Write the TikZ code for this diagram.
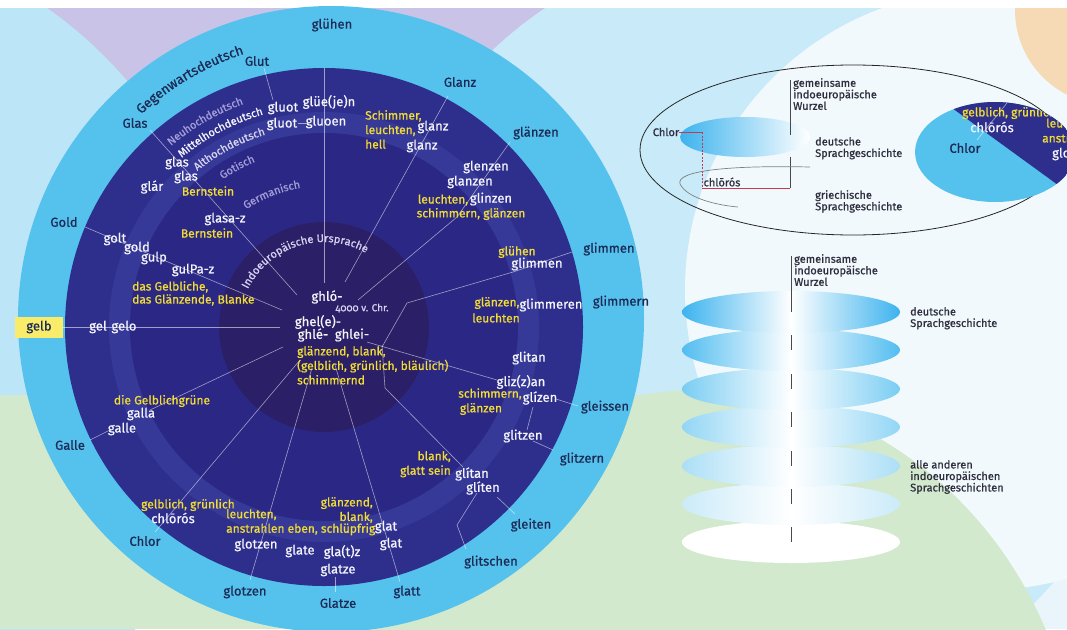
\documentclass[tikz,border=0pt]{standalone}
\usepackage{fontspec}
\setmainfont{Fira Sans}[Numbers=OldStyle,FakeBold=0.8]
\usetikzlibrary{decorations.text}
\definecolor{bgbase}{HTML}{EAF5FB}
\definecolor{lav}{HTML}{C8C3E7}
\definecolor{leftblue}{HTML}{BCE5F7}
\definecolor{cyanbg}{HTML}{C9EAF9}
\definecolor{whitebg}{HTML}{F2F9FC}
\definecolor{peach}{HTML}{F6DAB6}
\definecolor{greenbg}{HTML}{D3E9CD}
\definecolor{lightring}{HTML}{55C2EE}
\definecolor{navyA}{HTML}{2E2F8D}
\definecolor{navyB}{HTML}{363997}
\definecolor{navyC}{HTML}{2B2885}
\definecolor{navyD}{HTML}{2B2068}
\definecolor{wtxt}{HTML}{F4F4FA}
\definecolor{ytxt}{HTML}{F2DD35}
\definecolor{otxt}{HTML}{1B2B55}
\definecolor{ltxt}{HTML}{A39DD8}
\definecolor{lwtxt}{HTML}{D6D3F0}
\definecolor{stxt}{HTML}{2E2E3E}
\definecolor{gelbbox}{HTML}{F8EC6A}
\definecolor{redl}{HTML}{C23B50}
\definecolor{grayl}{HTML}{4A4A4A}
\definecolor{stackA}{HTML}{3DB3EE}
\definecolor{stackB}{HTML}{52BDF0}
\definecolor{stackC}{HTML}{7ACDF3}
\definecolor{stackD}{HTML}{92D6F5}
\definecolor{stackE}{HTML}{ABDFF6}
\definecolor{stackF}{HTML}{CBEBF9}
\begin{document}
\begin{tikzpicture}[x=1pt,y=-1pt,
  wl/.style={font=\fontsize{13}{15}\selectfont,text=wtxt,inner sep=0pt},
  yl/.style={font=\fontsize{12}{14.5}\selectfont,text=ytxt,inner sep=0pt,align=left},
  ol/.style={font=\fontsize{13}{15}\selectfont,text=otxt,inner sep=0pt},
  sl/.style={font=\fontsize{11}{11.5}\selectfont,text=stxt,inner sep=0pt,align=left},
  spoke/.style={draw=white,draw opacity=0.55,line width=0.6pt},
  sidel/.style={draw=grayl,line width=0.9pt},
  redline/.style={draw=redl,line width=0.7pt}]
\useasboundingbox (0,0) rectangle (1067,629);
\clip (0,0) rectangle (1067,629);
% background
\fill[bgbase] (0,0) rectangle (1067,629);
\fill[lav] (0,8) rectangle (720,420);
\fill[leftblue] (-200,360) circle[radius=430];
\fill[cyanbg] (760,330) circle[radius=387];
\fill[whitebg] (985,290) circle[radius=300];
\fill[peach] (1110,10) circle[radius=95];
\fill[greenbg] (0,395) rectangle (720,629);
\fill[greenbg] (700,800) ellipse[x radius=380,y radius=410];
\fill[white] (0,0) rectangle (1067,8);
% main circle
\fill[lightring] (331,319) circle[radius=313];
\fill[navyA] (324,327) circle[radius=259];
\fill[navyB] (324,327) circle[radius=215];
\fill[navyC] (324,327) circle[radius=194];
\fill[navyD] (324,327) circle[radius=105];
% spoke coordinates
\coordinate (c1) at (324,283); \coordinate (c1e) at (324,68);
\coordinate (c2) at (345,282); \coordinate (c2e) at (448,96);
\coordinate (c3) at (358,300); \coordinate (c3m) at (457,217); \coordinate (c3e) at (510,142);
\coordinate (c4) at (382,347); \coordinate (c4m) at (407,303); \coordinate (c4n) at (513,272); \coordinate (c4e) at (572,252);
\coordinate (c5) at (367,342); \coordinate (c5e) at (497,380);
\coordinate (c5f) at (556,399); \coordinate (c5g) at (578,406);
\coordinate (c6) at (382,345); \coordinate (c6m) at (385,388); \coordinate (c6e) at (463,467);
\coordinate (c6f) at (497,497); \coordinate (c6g) at (515,514);
\coordinate (c6h) at (533,407); \coordinate (c6i) at (527,430);
\coordinate (c6j) at (533,441); \coordinate (c6k) at (553,450);
\coordinate (c6l) at (477,493); \coordinate (c6n) at (457,525); \coordinate (c6o) at (466,549);
\coordinate (c7) at (335,365); \coordinate (c7e) at (400,582);
\coordinate (c8) at (312,368); \coordinate (c8e) at (250,580);
\coordinate (c8f) at (335,577); \coordinate (c8g) at (335,592);
\coordinate (c9) at (300,360); \coordinate (c9e) at (155,532);
\coordinate (c10) at (283,347); \coordinate (c10e) at (150,410);
\coordinate (c10f) at (90,440); \coordinate (c10g) at (110,430);
\coordinate (c11e) at (280,327);
\coordinate (c12) at (282,310); \coordinate (c12e) at (85,227);
\coordinate (c13) at (297,295); \coordinate (c13e) at (150,130);
\coordinate (c14) at (264,68); \coordinate (c14e) at (273,100);
\coordinate (c15) at (298,123); \coordinate (c15e) at (307,123);
% yellow box
\node[ol,fill=gelbbox,minimum width=48pt,minimum height=21pt] (oGelb) at (39,327) {gelb};
% spokes
\draw[spoke] (c1) -- (c1e);
\draw[spoke] (c2) -- (c2e);
\draw[spoke] (c3) -- (c3m) -- (c3e);
\draw[spoke] (c4) -- (c4m) -- (c4n) -- (c4e);
\draw[spoke] (c5) -- (c5e);
\draw[spoke] (c5f) -- (c5g);
\draw[spoke] (c6) -- (c6m) -- (c6e);
\draw[spoke] (c6f) -- (c6g);
\draw[spoke] (c6h) -- (c6i);
\draw[spoke] (c6j) -- (c6k);
\draw[spoke] (c6l) -- (c6n) -- (c6o);
\draw[spoke] (c7) -- (c7e);
\draw[spoke] (c8) -- (c8e);
\draw[spoke] (c8f) -- (c8g);
\draw[spoke] (c9) -- (c9e);
\draw[spoke] (c10) -- (c10e);
\draw[spoke] (c10f) -- (c10g);
\draw[spoke] (oGelb.east) -- (c11e);
\draw[spoke] (c12) -- (c12e);
\draw[spoke] (c13) -- (c13e);
\draw[spoke] (c14) -- (c14e);
\draw[spoke] (c15) -- (c15e);
% ring texts
\path[decorate,decoration={text along path,text align=center,text color=otxt,
  text={|\fontsize{13.5}{14}\selectfont|Gegenwartsdeutsch}}]
  (331,319) ++(-140.5:279) arc[start angle=-140.5,end angle=-100.5,radius=279];
\path[decorate,decoration={text along path,text align=center,text color=ltxt,
  text={|\fontsize{11}{12}\selectfont|Neuhochdeutsch}}]
  (324,327) ++(-140:237) arc[start angle=-140,end angle=-100,radius=237];
\path[decorate,decoration={text along path,text align=center,text color=wtxt,
  text={|\fontsize{11}{12}\selectfont|Mittelhochdeutsch}}]
  (324,327) ++(-138:221) arc[start angle=-138,end angle=-98,radius=221];
\path[decorate,decoration={text along path,text align=center,text color=lwtxt,
  text={|\fontsize{11}{12}\selectfont|Althochdeutsch}}]
  (324,327) ++(-138:201) arc[start angle=-138,end angle=-98,radius=201];
\path[decorate,decoration={text along path,text align=center,text color=ltxt,
  text={|\fontsize{11}{12}\selectfont|Gotisch}}]
  (324,327) ++(-133.5:179) arc[start angle=-133.5,end angle=-103.5,radius=179];
\path[decorate,decoration={text along path,text align=center,text color=ltxt,
  text={|\fontsize{11}{12}\selectfont|Germanisch}}]
  (324,327) ++(-131.5:141) arc[start angle=-131.5,end angle=-91.5,radius=141];
\path[decorate,decoration={text along path,text align=center,text color=lwtxt,
  text={|\fontsize{11}{12}\selectfont|Indoeuropäische Ursprache}}]
  (324,327) ++(-162:85) arc[start angle=-162,end angle=-52,radius=85];
% outer labels
\node[ol] (oGlut) at (257,61) {Glut};
\node[ol] (oGluehen) at (332,25) {glühen};
\node[ol] (oGlanz) at (460,82) {Glanz};
\node[ol] (oGlaenzen) at (536,133) {glänzen};
\node[ol] (oGlimmen) at (609,249) {glimmen};
\node[ol] (oGlimmern) at (621,302) {glimmern};
\node[ol] (oGleissen) at (605,407) {gleissen};
\node[ol] (oGlitzern) at (582,459) {glitzern};
\node[ol] (oGleiten) at (531,525) {gleiten};
\node[ol] (oGlitschen) at (491,562) {glitschen};
\node[ol] (oGlatt) at (407,592) {glatt};
\node[ol] (oGlatze) at (338,603) {Glatze};
\node[ol] (oGlotzen) at (245,592) {glotzen};
\node[ol] (oChlor) at (145,541) {Chlor};
\node[ol] (oGalle) at (70,445) {Galle};
\node[ol] (oGold) at (64,222) {Gold};
\node[ol] (oGlas) at (135,123) {Glas};
% white labels
\node[wl] (gluotA) at (283,108) {gluot};
\node[wl] (gluee) at (329,102) {glüe(je)n};
\node[wl] (gluotB) at (282,124) {gluot};
\node[wl] (gluoen) at (326,122) {gluoen};
\node[wl] (glanzA) at (433,127) {glanz};
\node[wl] (glanzB) at (422,146) {glanz};
\node[wl] (glenzen) at (486,167) {glenzen};
\node[wl] (glanzen) at (470,182) {glanzen};
\node[wl] (glinzen) at (491,199) {glinzen};
\node[wl] (glimmenW) at (537,264) {glimmen};
\node[wl] (glimmeren) at (551,305) {glimmeren};
\node[wl] (glitan) at (529,358) {glitan};
\node[wl] (glizzan) at (521,382) {gliz(z)an};
\node[wl] (glizen) at (540,398) {glízen};
\node[wl] (glitzen) at (523,436) {glitzen};
\node[wl] (glitanB) at (472,474) {glítan};
\node[wl] (gliten) at (483,488) {glíten};
\node[wl] (glatA) at (386,527) {glat};
\node[wl] (glatB) at (391,544) {glat};
\node[wl] (glotzenW) at (256,545) {glotzen};
\node[wl] (glate) at (300,551) {glate};
\node[wl] (glatz) at (342,552) {gla(t)z};
\node[wl] (glatzeW) at (338,570) {glatze};
\node[wl] (chloros) at (173,518) {chlōrós};
\node[wl] (galla) at (141,414) {galla};
\node[wl] (galle) at (122,429) {galle};
\node[wl] (gel) at (98,327) {gel};
\node[wl] (gelo) at (124,327) {gelo};
\node[wl] (gulPa) at (193,270) {gulPa-z};
\node[wl] (gulp) at (154,258) {gulp};
\node[wl] (gold) at (137,248) {gold};
\node[wl] (golt) at (115,239) {golt};
\node[wl] (glasaz) at (225,219) {glasa-z};
\node[wl] (glar) at (152,187) {glár};
\node[wl] (glasA) at (177,163) {glas};
\node[wl] (glasB) at (186,177) {glas};
\node[wl] (ghlo) at (327,297) {ghló-};
\node[wl] (ghele) at (318,322) {ghel(e)-};
\node[wl] (ghle) at (313,335) {ghlé-};
\node[wl] (ghlei) at (352,335) {ghlei-};
\node[inner sep=0pt,text=lwtxt,font=\fontsize{10}{11}\selectfont] (chr) at (362,308) {4000 v. Chr.};
% yellow labels
\node[yl,anchor=north west] (ySchimmer) at (365,110) {Schimmer,\\leuchten,\\hell};
\node[yl] (yLeuchtenA) at (443,200) {leuchten,};
\node[yl] (ySchimmernA) at (471,214) {schimmern, glänzen};
\node[yl] (yGluehen) at (517,252) {glühen};
\node[yl] (yGlaenzenA) at (497,303) {glänzen,};
\node[yl] (yLeuchtenB) at (496,318) {leuchten};
\node[yl] (ySchimmernB) at (490,394) {schimmern,};
\node[yl] (yGlaenzenB) at (481,409) {glänzen};
\node[yl,anchor=north east,align=right] (yBlank) at (451,451) {blank,\\glatt sein};
\node[yl,anchor=north east,align=right] (yGlaenzendB) at (373,497) {glänzend,\\blank,};
\node[yl,anchor=north west] (yLeuchtenC) at (226,509) {leuchten,\\anstrahlen eben, schlüpfrig};
\node[yl] (yGelblich) at (188,505) {gelblich, grünlich};
\node[yl] (yGelbgruene) at (162,401) {die Gelblichgrüne};
\node[yl,anchor=north west,font=\fontsize{12}{13}\selectfont] (yDas) at (132,281) {das Gelbliche,\\das Glänzende, Blanke};
\node[yl] (yBernA) at (208,191) {Bernstein};
\node[yl] (yBernB) at (207,233) {Bernstein};
\node[yl,anchor=north west] (yGlaenzendC) at (297,346) {glänzend, blank,\\(gelblich, grünlich, bläulich)\\schimmernd};
% ===== top right diagram =====
\draw[black!85,line width=0.8pt] (853,150) ellipse[x radius=213,y radius=85];
\shade[left color=stackA,right color=white] (745,137) ellipse[x radius=65,y radius=20];
\node[sl,anchor=north west] (tGem1) at (793,78) {gemeinsame\\indoeuropäische\\Wurzel};
\node[sl] (tChlor) at (666,132) {Chlor};
\node[sl] (tChloros) at (722,182) {chlōrós};
\node[sl,anchor=north west] (tDeutsch1) at (815,137) {deutsche\\Sprachgeschichte};
\node[sl,anchor=north west] (tGriech) at (815,190) {griechische\\Sprachgeschichte};
\coordinate (wA) at (790,80); \coordinate (wB) at (790,135);
\coordinate (cR1) at (702,132); \coordinate (cR2) at (702,188);
\coordinate (cR3) at (790,188); \coordinate (cR4) at (790,157);
\coordinate (cv1) at (810,167); \coordinate (cv2) at (738,207);
\draw[sidel] (wA) -- (wB);
\draw[redline] (tChlor.east) -- (cR1);
\draw[redline,dashed,dash pattern=on 2pt off 1.5pt] (cR1) -- (cR2);
\draw[redline] (cR2) -- (cR3);
\draw[sidel] (cR3) -- (cR4);
\draw[gray,line width=0.7pt] (cv1) .. controls (720,165) and (668,172) .. (682,187) .. controls (690,198) and (715,205) .. (cv2);
\begin{scope}
  \clip (995,152) ellipse[x radius=80,y radius=50];
  \fill[lightring] (995,152) ellipse[x radius=80,y radius=50];
  \fill[navyA] (930,92) -- (1080,92) -- (1080,201) -- cycle;
  \coordinate (m1) at (977,140); \coordinate (m2) at (1007,103);
  \draw[spoke] (m1) -- (m2);
  \node[yl,anchor=west] (mGelb) at (962,113) {gelblich, grünlich};
  \node[wl] (mChloros) at (992,127) {chlōrós};
  \node[ol] (mChlor) at (965,148) {Chlor};
  \node[yl,anchor=west] (mLeu) at (1046,124) {leuchten,};
  \node[yl,anchor=west] (mAns) at (1042,138) {anstrahlen};
  \node[wl,anchor=west] (mGlo) at (1052,154) {glotzen};
\end{scope}
% ===== stack diagram =====
\foreach \yc/\cc in {542/white,504/stackF,466/stackE,427/stackD,389/stackC,350/stackB,312/stackA}
  \shade[left color=\cc,right color=\cc,middle color=white] (791,\yc) ellipse[x radius=109,y radius=21];
\coordinate (w2a) at (791,256); \coordinate (w2b) at (791,312);
\draw[sidel] (w2a) -- (w2b);
\foreach \yc in {350,389,427,466,504,542}
  \draw[sidel] (791,\yc-15) -- (791,\yc);
\node[sl,anchor=north west] (tGem2) at (794,254) {gemeinsame\\indoeuropäische\\Wurzel};
\node[sl,anchor=north west] (tDeutsch2) at (910,307) {deutsche\\Sprachgeschichte};
\node[sl,anchor=north west] (tAlle) at (910,460) {alle anderen\\indoeuropäischen\\Sprachgeschichten};
\end{tikzpicture}
\end{document}
